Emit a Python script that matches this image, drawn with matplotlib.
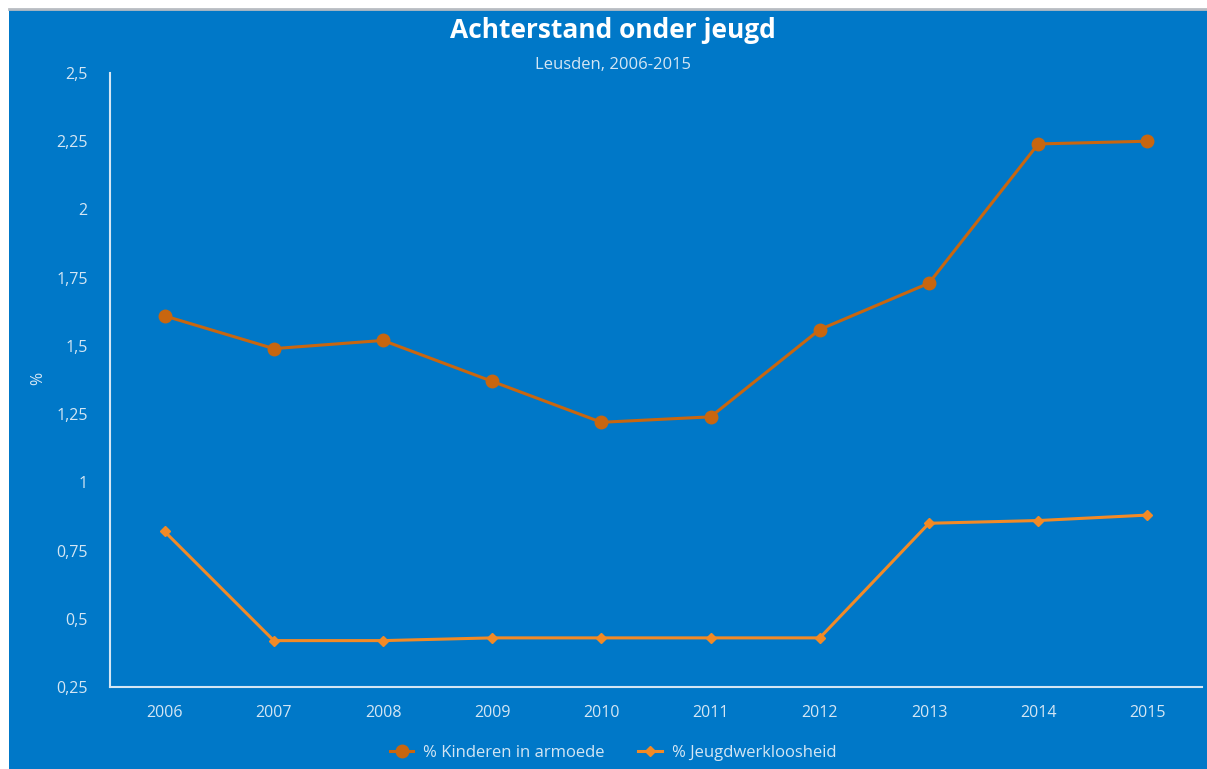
import matplotlib
matplotlib.use("Agg")
import matplotlib.pyplot as plt
from matplotlib.ticker import FuncFormatter, MultipleLocator
from matplotlib.patches import Rectangle

years = ['2006', '2007', '2008', '2009', '2010', '2011', '2012', '2013', '2014', '2015']
kinderen_armoede = [1.61, 1.49, 1.52, 1.37, 1.22, 1.24, 1.56, 1.73, 2.24, 2.25]
jeugdwerkloosheid = [0.82, 0.42, 0.42, 0.43, 0.43, 0.43, 0.43, 0.85, 0.86, 0.88]
labels = ['% Kinderen in armoede', '% Jeugdwerkloosheid']

bg = '#0078C8'
txt = '#D4E6F4'
c1 = '#C8660F'
c2 = '#F28A26'

plt.rcParams['font.family'] = ['Open Sans', 'DejaVu Sans']

fig = plt.figure(figsize=(12.07, 7.69), dpi=100)
fig.patch.set_facecolor('white')
fig.patches.append(Rectangle((9 / 1207, 0), 1, 1 - 10 / 769, transform=fig.transFigure,
                             facecolor=bg, edgecolor='none', zorder=-10))
fig.add_artist(plt.Line2D([9 / 1207, 1], [1 - 9 / 769, 1 - 9 / 769], color='#B8BCC2', lw=2))

ax = fig.add_axes([110 / 1207, 1 - 687 / 769, 1092 / 1207, 614 / 769])
ax.set_facecolor(bg)

x = range(len(years))
ax.plot(x, kinderen_armoede, color=c1, lw=2.2, marker='o', ms=9, label=labels[0])
ax.plot(x, jeugdwerkloosheid, color=c2, lw=2.2, marker='D', ms=5.5, label=labels[1])

ax.set_xlim(-0.5, len(years) - 0.5)
ax.set_ylim(0.25, 2.5)
ax.set_xticks(list(x))
ax.set_xticklabels(years)
ax.yaxis.set_major_locator(MultipleLocator(0.25))
ax.yaxis.set_major_formatter(FuncFormatter(lambda v, p: ('%g' % v).replace('.', ',')))
ax.tick_params(axis='both', length=0, colors=txt, labelsize=11.5)
ax.tick_params(axis='y', pad=16)
ax.tick_params(axis='x', pad=13)

for s in ['top', 'right']:
    ax.spines[s].set_visible(False)
for s in ['left', 'bottom']:
    ax.spines[s].set_color(txt)
    ax.spines[s].set_linewidth(1.5)

ax.set_ylabel('%', color=txt, fontsize=11.5)
ax.yaxis.set_label_coords(-0.058, 0.503)

fig.text(613 / 1207, 1 - 31 / 769, 'Achterstand onder jeugd', color='white', fontsize=19,
         fontweight='bold', ha='center', va='center')
fig.text(613 / 1207, 1 - 65 / 769, 'Leusden, 2006-2015', color=txt, fontsize=12,
         ha='center', va='center')

leg = fig.legend(*ax.get_legend_handles_labels(), loc='center',
                 bbox_to_anchor=(613 / 1207, 1 - 753 / 769), ncol=2, frameon=False,
                 fontsize=12, handlelength=1.4, columnspacing=2.0, handletextpad=0.6)
for t in leg.get_texts():
    t.set_color(txt)

fig.savefig('out.png', dpi=100, facecolor=fig.get_facecolor())
